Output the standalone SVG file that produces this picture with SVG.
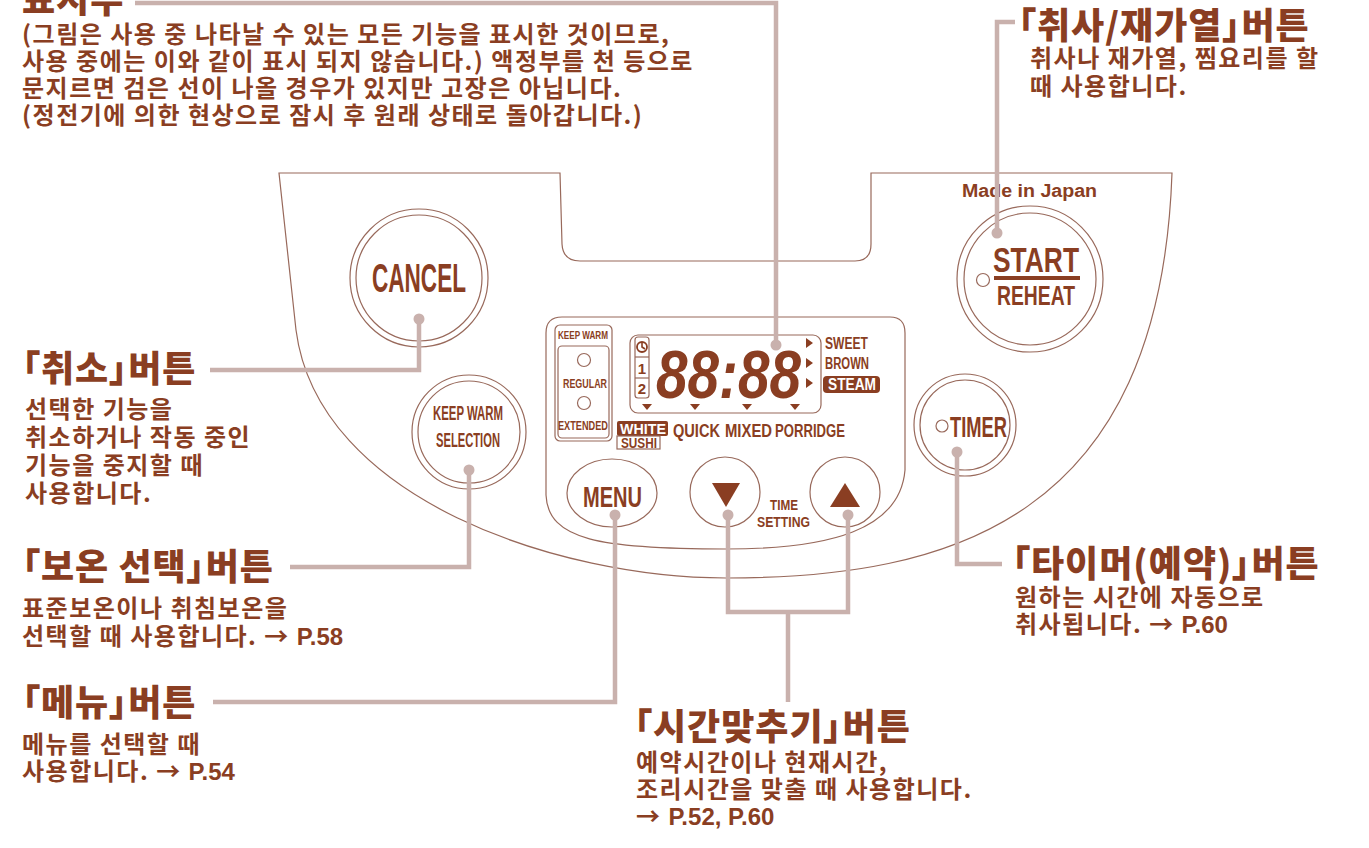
<svg xmlns="http://www.w3.org/2000/svg" width="1369" height="848" viewBox="0 0 1369 848">
<defs>
<style>
.kr{font-family:"Noto Sans CJK KR","Noto Sans",sans-serif;fill:#8a3e22}
.title{font-size:36px;font-weight:900;letter-spacing:1px;font-feature-settings:"palt"}
.sub{font-size:24px;font-weight:700;letter-spacing:1.5px}
.en{font-family:"Liberation Sans",Arial,sans-serif;font-weight:700;letter-spacing:0}
.lbl{font-family:"Liberation Sans",Arial,sans-serif;font-weight:700;fill:#8a3e22}
.wht{fill:#ffffff}
.ol{fill:none;stroke:#98695b;stroke-width:1.2}
.br{fill:#8a3e22}
.conn{fill:none;stroke:#c9b1ad;stroke-width:4.5}
.dot{fill:#c9b1ad}
</style>
</defs>
<rect width="1369" height="848" fill="#ffffff"/>

<!-- cooker face outline -->
<g id="body">
<path class="ol" d="M279,173 L560,173 L562,244 Q563,261 580,261 L855,261 Q871,261 871,244 L871,173 L1172,173 C1160,520 950,578 726,578 C560,578 318,500 296,330 Z"/>
<path class="ol" d="M546,333 Q546,317 562,317 L890,317 Q905,317 905,333 L905,470 C900,530 830,549 726,549 C600,549 548,540 546,495 Z"/>
<text class="lbl" x="962" y="197" font-size="18" textLength="135" lengthAdjust="spacingAndGlyphs">Made in Japan</text>
</g>

<g id="cancel-button">
<circle class="ol" cx="419" cy="278" r="69"/>
<circle class="ol" cx="419" cy="278" r="63"/>
<text class="lbl" x="372" y="292" font-size="40" textLength="94" lengthAdjust="spacingAndGlyphs">CANCEL</text>
</g>

<g id="start-button">
<circle class="ol" cx="1030" cy="279" r="73"/>
<circle class="ol" cx="1030" cy="279" r="66"/>
<circle class="ol" cx="983" cy="280" r="6.5"/>
<text class="lbl" x="993" y="272" font-size="35" textLength="86" lengthAdjust="spacingAndGlyphs">START</text>
<rect class="br" x="994" y="276" width="86" height="4"/>
<text class="lbl" x="997" y="305" font-size="28" textLength="78" lengthAdjust="spacingAndGlyphs">REHEAT</text>
</g>

<g id="keepwarm-button">
<circle class="ol" cx="469" cy="432" r="57"/>
<circle class="ol" cx="469" cy="432" r="51"/>
<text class="lbl" x="433" y="420" font-size="21" textLength="70" lengthAdjust="spacingAndGlyphs">KEEP WARM</text>
<text class="lbl" x="436" y="447" font-size="21" textLength="64" lengthAdjust="spacingAndGlyphs">SELECTION</text>
</g>

<g id="timer-button">
<circle class="ol" cx="965" cy="425" r="51"/>
<circle class="ol" cx="965" cy="425" r="45"/>
<circle class="ol" cx="942" cy="426" r="6"/>
<text class="lbl" x="950" y="437" font-size="30" textLength="57" lengthAdjust="spacingAndGlyphs">TIMER</text>
</g>

<g id="keepwarm-indicator">
<rect class="ol" x="555" y="325" width="57" height="116" rx="5"/>
<rect class="ol" x="558" y="346" width="51" height="92" rx="4"/>
<text class="lbl" x="558" y="339" font-size="11" textLength="50" lengthAdjust="spacingAndGlyphs">KEEP WARM</text>
<circle class="ol" cx="584" cy="360" r="6.5"/>
<text class="lbl" x="563" y="388" font-size="13" textLength="44" lengthAdjust="spacingAndGlyphs">REGULAR</text>
<circle class="ol" cx="584" cy="403" r="6.5"/>
<text class="lbl" x="558" y="430" font-size="13" textLength="50" lengthAdjust="spacingAndGlyphs">EXTENDED</text>
</g>

<g id="lcd">
<rect class="ol" x="630" y="335" width="191" height="78" rx="8"/>
<rect class="ol" x="635" y="337" width="14" height="61" rx="3" stroke-width="1.6"/>
<line class="ol" x1="635" y1="357" x2="649" y2="357" stroke-width="1.6"/>
<line class="ol" x1="635" y1="378" x2="649" y2="378" stroke-width="1.6"/>
<circle cx="642" cy="347" r="5" fill="none" stroke="#8a3e22" stroke-width="1.8"/>
<path d="M642,343 L642,347 L645,349" fill="none" stroke="#8a3e22" stroke-width="1.6"/>
<text class="lbl" x="642" y="374" font-size="15" text-anchor="middle">1</text>
<text class="lbl" x="642" y="394" font-size="15" text-anchor="middle">2</text>
<text class="lbl" x="656" y="398" font-size="68" font-weight="400" font-style="italic" textLength="145" lengthAdjust="spacingAndGlyphs">88:88</text>
<polygon class="br" points="806,338 813,343 806,348"/>
<polygon class="br" points="806,358 813,363 806,368"/>
<polygon class="br" points="806,378 813,383 806,388"/>
<polygon class="br" points="642,404 652,404 647,410"/>
<polygon class="br" points="690,404 700,404 695,410"/>
<polygon class="br" points="742,404 752,404 747,410"/>
<polygon class="br" points="790,404 800,404 795,410"/>
<text class="lbl" x="825" y="349" font-size="16" textLength="43" lengthAdjust="spacingAndGlyphs">SWEET</text>
<text class="lbl" x="825" y="369" font-size="16" textLength="44" lengthAdjust="spacingAndGlyphs">BROWN</text>
<rect class="br" x="823" y="376" width="57" height="17" rx="4"/>
<text class="lbl wht" x="828" y="390" font-size="16" textLength="48" lengthAdjust="spacingAndGlyphs">STEAM</text>
<rect class="br" x="617" y="421" width="51" height="15" rx="2"/>
<text class="lbl wht" x="620" y="434" font-size="15" textLength="46" lengthAdjust="spacingAndGlyphs">WHITE</text>
<rect class="ol" x="617" y="436" width="43" height="13"/>
<text class="lbl" x="621" y="448" font-size="14" textLength="36" lengthAdjust="spacingAndGlyphs">SUSHI</text>
<text class="lbl" x="673" y="437" font-size="19" textLength="47" lengthAdjust="spacingAndGlyphs">QUICK</text>
<text class="lbl" x="725" y="437" font-size="19" textLength="47" lengthAdjust="spacingAndGlyphs">MIXED</text>
<text class="lbl" x="775" y="437" font-size="19" textLength="70" lengthAdjust="spacingAndGlyphs">PORRIDGE</text>
</g>

<g id="menu-button">
<ellipse class="ol" cx="612" cy="493" rx="45" ry="34"/>
<text class="lbl" x="583" y="507" font-size="30" textLength="59" lengthAdjust="spacingAndGlyphs">MENU</text>
</g>

<g id="down-button">
<ellipse class="ol" cx="725" cy="492" rx="35" ry="35"/>
<polygon class="br" points="712,483 740,483 726,507"/>
</g>

<g id="up-button">
<ellipse class="ol" cx="845" cy="492" rx="35" ry="35"/>
<polygon class="br" points="830,507 860,507 845,483"/>
</g>

<g id="time-setting-label">
<text class="lbl" x="770" y="510" font-size="14" textLength="28" lengthAdjust="spacingAndGlyphs">TIME</text>
<text class="lbl" x="757" y="527" font-size="14" textLength="53" lengthAdjust="spacingAndGlyphs">SETTING</text>
</g>

<!-- leader lines -->
<g id="connectors">
<path class="conn" d="M135,3 L776,3 L776,345"/>
<path class="conn" d="M1015,22 L997,22 L997,233"/>
<path class="conn" d="M210,370 L419,370 L419,319"/>
<path class="conn" d="M290,567 L469,567 L469,470"/>
<path class="conn" d="M213,702 L615,702 L615,515"/>
<path class="conn" d="M728,515 L728,612 L848,612 L848,515 M788,612 L788,702"/>
<path class="conn" d="M1002,564 L957,564 L957,452"/>
<circle class="dot" cx="776" cy="345" r="5.5"/>
<circle class="dot" cx="997" cy="233" r="5.5"/>
<circle class="dot" cx="419" cy="319" r="5.5"/>
<circle class="dot" cx="469" cy="470" r="5.5"/>
<circle class="dot" cx="615" cy="515" r="5.5"/>
<circle class="dot" cx="728" cy="515" r="5.5"/>
<circle class="dot" cx="848" cy="515" r="5.5"/>
<circle class="dot" cx="957" cy="452" r="5.5"/>
</g>

<g id="label-display">
<text class="kr title" x="22" y="13">표시부</text>
<text class="kr sub" x="22" y="43">(그림은 사용 중 나타날 수 있는 모든 기능을 표시한 것이므로,</text>
<text class="kr sub" x="22" y="70">사용 중에는 이와 같이 표시 되지 않습니다.) 액정부를 천 등으로</text>
<text class="kr sub" x="22" y="97">문지르면 검은 선이 나올 경우가 있지만 고장은 아닙니다.</text>
<text class="kr sub" x="22" y="124">(정전기에 의한 현상으로 잠시 후 원래 상태로 돌아갑니다.)</text>
</g>

<g id="label-start">
<text class="kr title" x="1018" y="39" letter-spacing="3">「취사/재가열」버튼</text>
<text class="kr sub" x="1030" y="67">취사나 재가열, 찜요리를 할</text>
<text class="kr sub" x="1030" y="95">때 사용합니다.</text>
</g>

<g id="label-cancel">
<text class="kr title" x="22" y="382" letter-spacing="2">「취소」버튼</text>
<text class="kr sub" x="25" y="418">선택한 기능을</text>
<text class="kr sub" x="25" y="446">취소하거나 작동 중인</text>
<text class="kr sub" x="25" y="474">기능을 중지할 때</text>
<text class="kr sub" x="25" y="502">사용합니다.</text>
</g>

<g id="label-keepwarm">
<text class="kr title" x="22" y="580" letter-spacing="2">「보온 선택」버튼</text>
<text class="kr sub" x="22" y="617">표준보온이나 취침보온을</text>
<text class="kr sub" x="22" y="645">선택할 때 사용합니다. → <tspan class="en">P.58</tspan></text>
</g>

<g id="label-menu">
<text class="kr title" x="22" y="716">「메뉴」버튼</text>
<text class="kr sub" x="22" y="753">메뉴를 선택할 때</text>
<text class="kr sub" x="22" y="780">사용합니다. → <tspan class="en">P.54</tspan></text>
</g>

<g id="label-time">
<text class="kr title" x="634" y="740">「시간맞추기」버튼</text>
<text class="kr sub" x="636" y="771">예약시간이나 현재시간,</text>
<text class="kr sub" x="636" y="798">조리시간을 맞출 때 사용합니다.</text>
<text class="kr sub" x="636" y="825">→ <tspan class="en">P.52, P.60</tspan></text>
</g>

<g id="label-timer">
<text class="kr title" x="1012" y="577">「타이머(예약)」버튼</text>
<text class="kr sub" x="1015" y="606">원하는 시간에 자동으로</text>
<text class="kr sub" x="1015" y="633">취사됩니다. → <tspan class="en">P.60</tspan></text>
</g>
</svg>
